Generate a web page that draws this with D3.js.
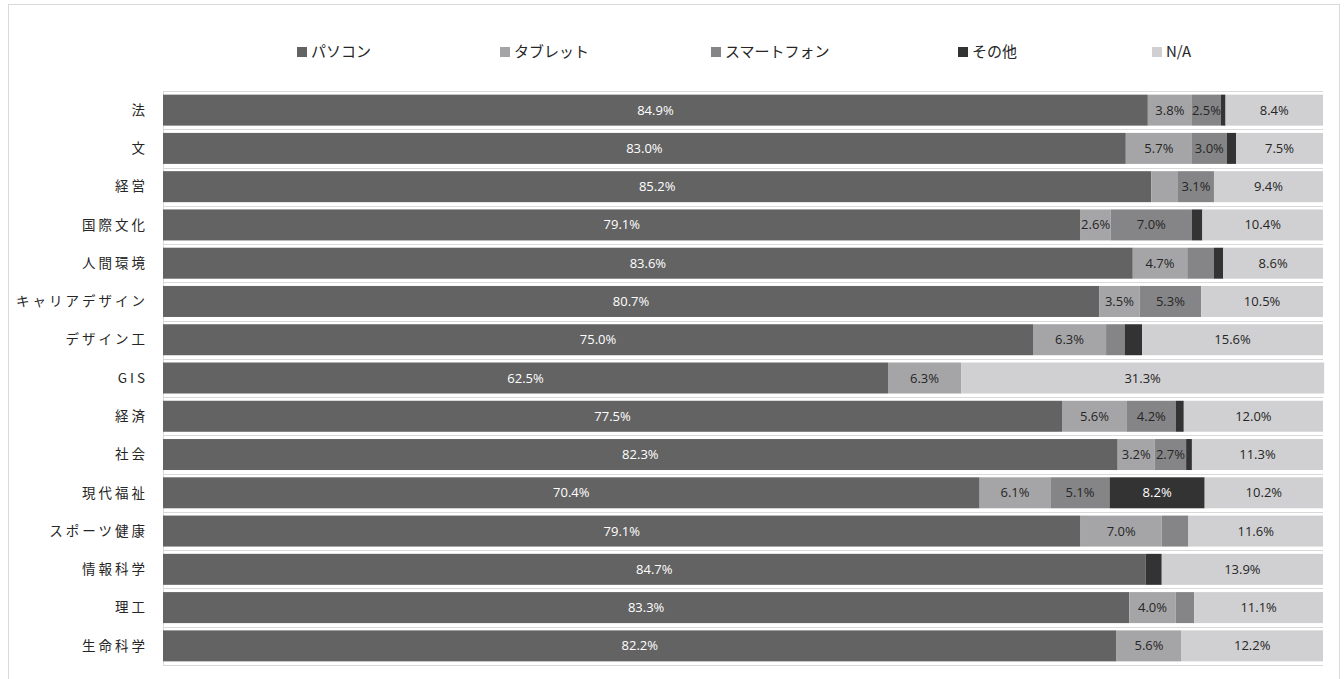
<!DOCTYPE html>
<html>
<head>
<meta charset="utf-8">
<script src="https://cdn.jsdelivr.net/npm/d3@7"></script>
<style>
  body { margin:0; background:#fff; }
  svg { display:block; }
</style>
</head>
<body>
<div id="chart"></div>
<script>
// categories (top to bottom)
var faculties=["法","文","経営","国際文化","人間環境","キャリアデザイン","デザイン工","GIS","経済","社会","現代福祉","スポーツ健康","情報科学","理工","生命科学"];
var seriesNames=["パソコン","タブレット","スマートフォン","その他","N/A"];
// series values (%)
var pasokon=[84.9,83.0,85.2,79.1,83.6,80.7,75.0,62.5,77.5,82.3,70.4,79.1,84.7,83.3,82.2];
var tablet =[3.8,5.7,2.3,2.6,4.7,3.5,6.3,6.3,5.6,3.2,6.1,7.0,0,4.0,5.6];
var smartphone=[2.5,3.0,3.1,7.0,2.3,5.3,1.6,0,4.2,2.7,5.1,2.3,0,1.6,0];
var other  =[0.4,0.8,0,0.9,0.8,0,1.5,0,0.7,0.5,8.2,0,1.4,0,0];
var na     =[8.4,7.5,9.4,10.4,8.6,10.5,15.6,31.3,12.0,11.3,10.2,11.6,13.9,11.1,12.2];

var colors=["#636363","#a5a5a7","#858587","#333333","#d0d0d2"];
var labelColors=["#ffffff","#262626","#262626","#ffffff","#262626"];

(function(){
	var width=1344,height=679;
	var plotLeft=163,plotRight=1323,plotTop=91,plotBottom=665;

	var table=faculties.map(function(f,i){
		return {name:f,"パソコン":pasokon[i],"タブレット":tablet[i],"スマートフォン":smartphone[i],"その他":other[i],"N/A":na[i]};
	});

	var svg=d3.select("#chart").append("svg")
		.attr("width",width)
		.attr("height",height);

	// outer frame
	svg.append("rect")
		.attr("x",8.5).attr("y",4.5)
		.attr("width",1331).attr("height",700)
		.attr("fill","none").attr("stroke","#d9d9d9");

	var x=d3.scaleLinear().domain([0,100]).range([plotLeft,plotRight]);
	var y=d3.scaleBand().domain(faculties).range([plotTop,plotBottom]).paddingInner(0.19).paddingOuter(0.095);

	// gridlines at category boundaries
	var step=(plotBottom-plotTop)/faculties.length;
	svg.append("g").selectAll("line")
		.data(d3.range(faculties.length+1))
		.enter().append("line")
		.attr("x1",plotLeft).attr("x2",plotRight)
		.attr("y1",function(d){return Math.round(plotTop+d*step)+0.5;})
		.attr("y2",function(d){return Math.round(plotTop+d*step)+0.5;})
		.attr("stroke","#d9d9d9");
	svg.append("line")
		.attr("x1",plotLeft+0.5).attr("x2",plotLeft+0.5)
		.attr("y1",plotTop).attr("y2",plotBottom)
		.attr("stroke","#d9d9d9");

	var stack=d3.stack().keys(seriesNames);
	var layers=stack(table);

	var groups=svg.append("g").selectAll("g")
		.data(layers)
		.enter().append("g")
		.attr("fill",function(d,i){return colors[i];});

	groups.selectAll("rect")
		.data(function(d){return d;})
		.enter().append("rect")
		.attr("x",function(d){return x(d[0]);})
		.attr("y",function(d){return y(d.data.name);})
		.attr("width",function(d){return x(d[1])-x(d[0]);})
		.attr("height",y.bandwidth());

	// data labels (small segments stay unlabeled)
	groups.each(function(layer,li){
		d3.select(this).selectAll("text")
			.data(layer.filter(function(d){return d[1]-d[0]>=2.45;}))
			.enter().append("text")
			.attr("x",function(d){return (x(d[0])+x(d[1]))/2;})
			.attr("y",function(d){return y(d.data.name)+y.bandwidth()/2;})
			.attr("dy","0.35em")
			.attr("text-anchor","middle")
			.attr("fill",labelColors[li])
			.style("font-family","'Open Sans',sans-serif")
			.style("font-size","13px")
			.text(function(d){return (d[1]-d[0]).toFixed(1)+"%";});
	});

	// category labels
	svg.append("g").selectAll("text")
		.data(faculties)
		.enter().append("text")
		.attr("x",148)
		.attr("y",function(d){return y(d)+y.bandwidth()/2;})
		.attr("dy","0.35em")
		.attr("text-anchor","end")
		.attr("fill","#262626")
		.style("font-family","'Noto Sans CJK JP',sans-serif")
		.style("font-size","13.5px")
		.style("letter-spacing","3px")
		.text(function(d){return d;});

	// legend
	var legendX=[297,500,711,958,1152];
	var legend=svg.append("g").selectAll("g")
		.data(seriesNames)
		.enter().append("g")
		.attr("transform",function(d,i){return "translate("+legendX[i]+",52)";});
	legend.append("rect")
		.attr("x",0).attr("y",-5)
		.attr("width",10).attr("height",10)
		.attr("fill",function(d,i){return colors[i];});
	legend.append("text")
		.attr("x",14).attr("dy","0.35em")
		.attr("fill","#262626")
		.style("font-family","'Noto Sans CJK JP',sans-serif")
		.style("font-size","15px")
		.text(function(d){return d;});
})();
</script>
</body>
</html>
